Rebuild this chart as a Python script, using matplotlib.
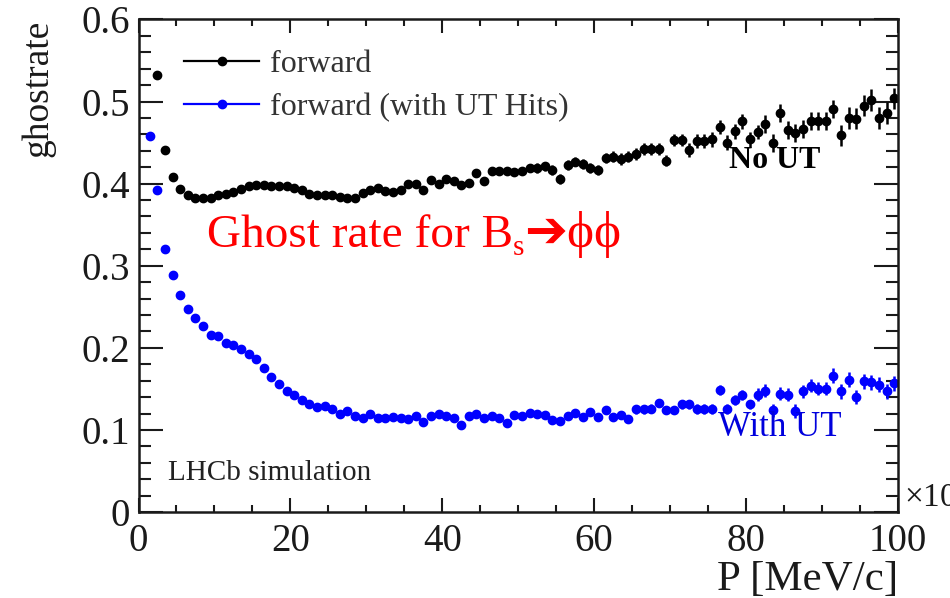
import numpy as np
import matplotlib
matplotlib.use("Agg")
import matplotlib.pyplot as plt
from matplotlib.ticker import MultipleLocator
from matplotlib.lines import Line2D

# bin centres (1 MeV/c bins, x10^3)
p_fwd = np.arange(2.5, 100, 1.0)
p_ut = np.arange(1.5, 100, 1.0)

# forward (no UT)
rate_fwd = [
    0.532, 0.441, 0.408, 0.394, 0.386, 0.383, 0.383, 0.382, 0.386, 0.387,
    0.390, 0.394, 0.397, 0.398, 0.398, 0.397, 0.397, 0.397, 0.395, 0.392,
    0.388, 0.386, 0.386, 0.386, 0.384, 0.383, 0.383, 0.389, 0.392, 0.395,
    0.391, 0.390, 0.392, 0.400, 0.400, 0.392, 0.404, 0.400, 0.406, 0.403,
    0.398, 0.401, 0.413, 0.403, 0.415, 0.415, 0.415, 0.414, 0.415, 0.419,
    0.419, 0.421, 0.417, 0.406, 0.423, 0.427, 0.424, 0.419, 0.417, 0.431,
    0.433, 0.430, 0.433, 0.436, 0.442, 0.442, 0.442, 0.428, 0.453, 0.453,
    0.441, 0.452, 0.452, 0.454, 0.469, 0.450, 0.464, 0.476, 0.454, 0.463,
    0.473, 0.449, 0.486, 0.465, 0.462, 0.467, 0.476, 0.476, 0.476, 0.491,
    0.459, 0.480, 0.479, 0.495, 0.502, 0.480, 0.486, 0.504,
]
err_fwd = [
    0.002, 0.002, 0.002, 0.002, 0.002, 0.002, 0.002, 0.002, 0.002, 0.002,
    0.002, 0.002, 0.002, 0.002, 0.002, 0.002, 0.002, 0.002, 0.002, 0.002,
    0.003, 0.003, 0.003, 0.003, 0.003, 0.003, 0.003, 0.003, 0.003, 0.003,
    0.004, 0.004, 0.004, 0.004, 0.004, 0.004, 0.004, 0.004, 0.004, 0.004,
    0.005, 0.005, 0.005, 0.005, 0.005, 0.005, 0.005, 0.005, 0.005, 0.005,
    0.006, 0.006, 0.006, 0.006, 0.006, 0.006, 0.006, 0.006, 0.006, 0.006,
    0.007, 0.007, 0.007, 0.007, 0.007, 0.007, 0.007, 0.007, 0.007, 0.007,
    0.009, 0.009, 0.009, 0.009, 0.009, 0.009, 0.009, 0.009, 0.009, 0.009,
    0.011, 0.011, 0.011, 0.011, 0.011, 0.011, 0.011, 0.011, 0.011, 0.011,
    0.013, 0.013, 0.013, 0.013, 0.013, 0.013, 0.013, 0.013,
]

# forward (with UT hits)
rate_ut = [
    0.458, 0.392, 0.321, 0.289, 0.264, 0.247, 0.236, 0.226, 0.216, 0.214,
    0.206, 0.203, 0.199, 0.192, 0.186, 0.175, 0.165, 0.156, 0.148, 0.142,
    0.136, 0.132, 0.128, 0.129, 0.125, 0.120, 0.123, 0.117, 0.115, 0.120,
    0.114, 0.115, 0.116, 0.115, 0.113, 0.117, 0.110, 0.117, 0.119, 0.117,
    0.114, 0.106, 0.117, 0.119, 0.115, 0.117, 0.114, 0.108, 0.118, 0.117,
    0.121, 0.119, 0.118, 0.112, 0.111, 0.117, 0.121, 0.116, 0.122, 0.116,
    0.124, 0.116, 0.118, 0.113, 0.125, 0.125, 0.126, 0.133, 0.124, 0.124,
    0.131, 0.131, 0.125, 0.126, 0.126, 0.149, 0.126, 0.136, 0.143, 0.131,
    0.143, 0.148, 0.124, 0.144, 0.143, 0.123, 0.147, 0.154, 0.150, 0.150,
    0.166, 0.147, 0.161, 0.140, 0.159, 0.158, 0.155, 0.147, 0.157,
]
err_ut = [
    0.002, 0.002, 0.002, 0.002, 0.002, 0.002, 0.002, 0.002, 0.002, 0.002,
    0.002, 0.002, 0.002, 0.002, 0.002, 0.002, 0.002, 0.002, 0.002, 0.002,
    0.002, 0.002, 0.002, 0.002, 0.002, 0.002, 0.002, 0.002, 0.002, 0.002,
    0.003, 0.003, 0.003, 0.003, 0.003, 0.003, 0.003, 0.003, 0.003, 0.003,
    0.003, 0.003, 0.003, 0.003, 0.003, 0.003, 0.003, 0.003, 0.003, 0.003,
    0.004, 0.004, 0.004, 0.004, 0.004, 0.004, 0.004, 0.004, 0.004, 0.004,
    0.005, 0.005, 0.005, 0.005, 0.005, 0.005, 0.005, 0.005, 0.005, 0.005,
    0.006, 0.006, 0.006, 0.006, 0.006, 0.006, 0.006, 0.006, 0.006, 0.006,
    0.008, 0.008, 0.008, 0.008, 0.008, 0.008, 0.008, 0.008, 0.008, 0.008,
    0.009, 0.009, 0.009, 0.009, 0.009, 0.009, 0.009, 0.009, 0.009,
]

serif = ["Liberation Serif", "DejaVu Sans"]
plt.rcParams["font.family"] = serif
plt.rcParams["mathtext.fontset"] = "custom"
plt.rcParams["mathtext.rm"] = "Liberation Serif"

fig = plt.figure(figsize=(9.5, 5.98), dpi=100)
ax = fig.add_axes([0.1458, 0.1438, 0.7995, 0.8236])

ms = 6.0
ax.errorbar(p_fwd, rate_fwd, yerr=err_fwd, fmt="o", color="black",
            markersize=ms, elinewidth=1.8, capsize=0)
ax.errorbar(p_ut, rate_ut, yerr=err_ut, fmt="o", color="#0000ff",
            markersize=ms, elinewidth=1.8, capsize=0)

ax.set_xlim(0, 100)
ax.set_ylim(0, 0.6)
ax.xaxis.set_major_locator(MultipleLocator(20))
ax.xaxis.set_minor_locator(MultipleLocator(5))
ax.yaxis.set_major_locator(MultipleLocator(0.1))
ax.yaxis.set_minor_locator(MultipleLocator(0.02))
ax.yaxis.set_major_formatter(plt.FuncFormatter(lambda v, _: "0" if v == 0 else f"{v:.1f}"))

ax.tick_params(axis="both", which="both", direction="in", top=True, right=True,
               labelsize=28, width=1.5, colors="#1a1a1a")
ax.tick_params(axis="x", which="major", length=10, pad=8)
ax.tick_params(axis="x", which="minor", length=5)
ax.tick_params(axis="y", which="major", length=17, pad=6)
ax.tick_params(axis="y", which="minor", length=8.5)
for s in ax.spines.values():
    s.set_linewidth(1.8)
    s.set_color("#1a1a1a")

ax.set_xlabel("P [MeV/c]", fontsize=31, loc="right", labelpad=0, color="#1a1a1a")
ax.set_ylabel("ghostrate", fontsize=27, loc="top", labelpad=19, color="#1a1a1a")

handles = [
    Line2D([], [], color="black", marker="o", markersize=ms, lw=1.6),
    Line2D([], [], color="#0000ff", marker="o", markersize=ms, lw=1.6),
]
ax.legend(handles, ["forward", "forward (with UT Hits)"], loc="upper left",
          bbox_to_anchor=(0.022, 0.997), frameon=False, fontsize=23,
          handlelength=2.35, handletextpad=0.35, labelspacing=0.42,
          labelcolor="#333333")

# red annotation built from pieces: main text, subscript, arrow + phi phi
t1 = ax.text(9.0, 0.323, "Ghost rate for B", color="red", fontsize=34,
             va="baseline")
t2 = ax.annotate("s", xy=(1, 0), xycoords=t1, xytext=(0, -3),
                 textcoords="offset points", color="red", fontsize=21,
                 va="bottom")
ax.annotate("➔ϕϕ", xy=(1, 0), xycoords=(t2, t1), xytext=(0, -1),
            textcoords="offset points", color="red", fontsize=37,
            va="bottom")

ax.text(3.9, 0.039, "LHCb simulation", fontsize=21, color="#222222", va="baseline")
ax.text(77.8, 0.419, "No UT", fontsize=23, fontweight="bold", color="black",
        va="baseline")
ax.text(76.3, 0.093, "With UT", fontsize=25, color="#0000dd", va="baseline")
ax.text(1.008, 0.03, r"×10$^\mathregular{3}$", transform=ax.transAxes,
        fontsize=24, color="#1a1a1a", va="center")

fig.savefig("out.png", dpi=100)
